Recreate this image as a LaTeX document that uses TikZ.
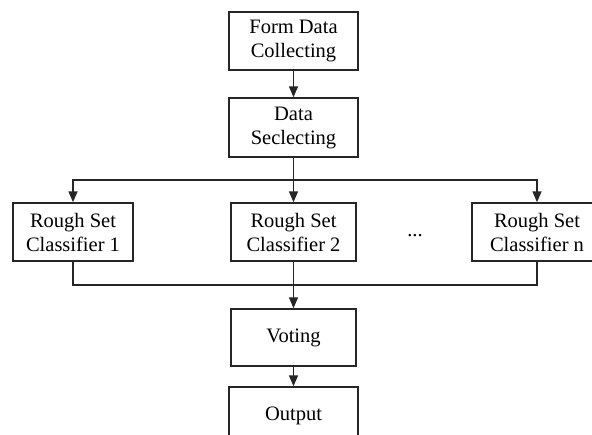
\documentclass[tikz,border=0pt]{standalone}
\usepackage{fontspec}
\setmainfont{Liberation Serif}
\usetikzlibrary{arrows.meta}
\begin{document}
\begin{tikzpicture}[x=1pt,y=-1pt,
  box/.style={draw=black!85,line width=1.5pt,align=center,inner sep=0pt,
    font=\fontsize{20.5}{24}\selectfont},
  conn/.style={draw=black!85,line width=1.6pt},
  arr/.style={conn,-{Triangle[length=11pt,width=9pt]}}]
\clip (0,0) rectangle (592,434);
\fill[white] (0,0) rectangle (592,434);
\node[box,minimum width=129pt,minimum height=58pt] (form) at (293.5,41) {Form Data\\Collecting};
\node[box,minimum width=129pt,minimum height=59pt] (sel) at (293.5,127.5) {Data\\Seclecting};
\node[box,minimum width=120pt,minimum height=58pt] (c1) at (73,232) {Rough Set\\Classifier 1};
\node[box,minimum width=125pt,minimum height=58pt] (c2) at (293.5,232) {Rough Set\\Classifier 2};
\node[box,minimum width=130pt,minimum height=58pt] (cn) at (537,232) {Rough Set\\Classifier n};
\node[font=\fontsize{20.5}{24}\selectfont,inner sep=0pt] (dots) at (415,236) {...};
\node[box,minimum width=125pt,minimum height=57pt] (vote) at (293.5,337.5) {Voting};
\node[box,minimum width=129pt,minimum height=58pt] (out) at (293.5,416) {Output};
\coordinate (split) at (293.5,180);
\coordinate (join) at (293.5,285);
\draw[arr] (form) -- (sel);
\draw[conn] (sel.south) -- (split);
\draw[arr] (split) -| (c1.north);
\draw[arr] (split) -| (cn.north);
\draw[arr] (split) -- (c2.north);
\draw[conn] (c1.south) |- (join);
\draw[conn] (cn.south) |- (join);
\draw[arr] (c2.south) -- (vote.north);
\draw[arr] (vote) -- (out);
\end{tikzpicture}
\end{document}
